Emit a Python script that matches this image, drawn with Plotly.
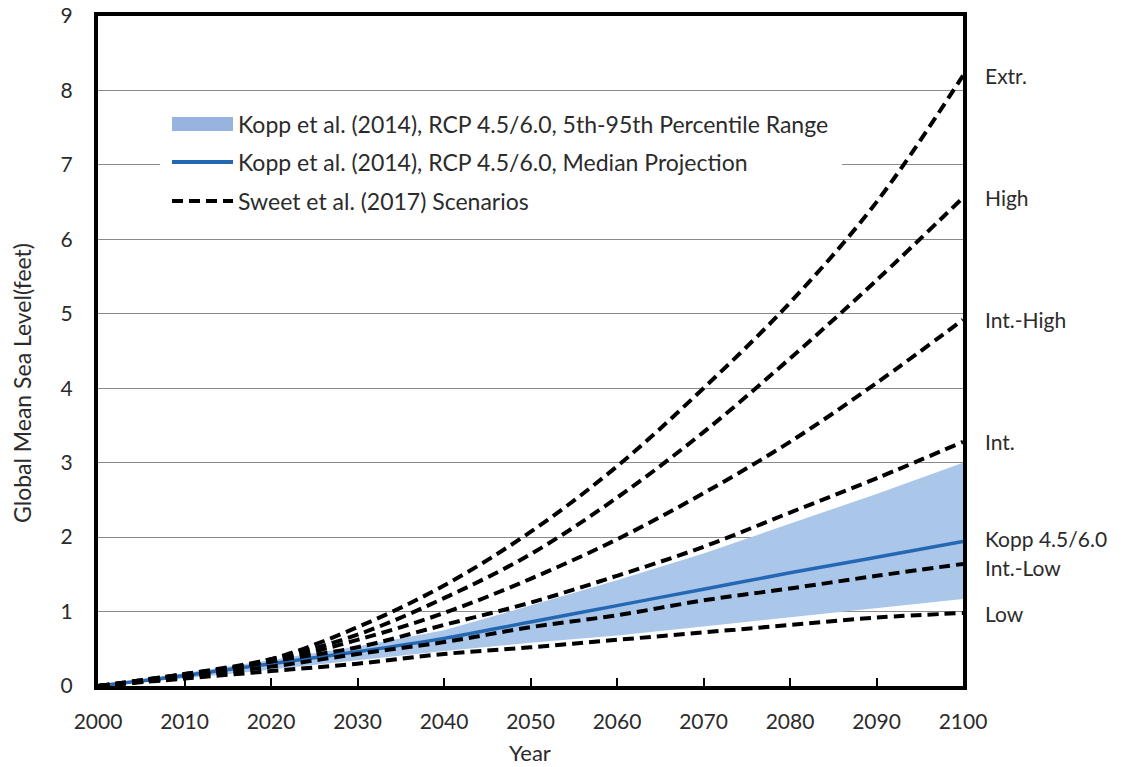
import plotly.graph_objects as go

# Decadal years
years = [2000, 2010, 2020, 2030, 2040, 2050, 2060, 2070, 2080, 2090, 2100]

# Sweet et al. (2017) GMSL scenarios, feet above 2000
sweet_low = [0, 0.10, 0.20, 0.30, 0.43, 0.52, 0.62, 0.72, 0.82, 0.92, 0.98]
sweet_int_low = [0, 0.13, 0.26, 0.43, 0.59, 0.79, 0.95, 1.15, 1.31, 1.48, 1.64]
sweet_int = [0, 0.13, 0.33, 0.52, 0.82, 1.12, 1.48, 1.87, 2.33, 2.79, 3.28]
sweet_int_high = [0, 0.16, 0.33, 0.62, 0.98, 1.44, 1.97, 2.59, 3.28, 4.07, 4.92]
sweet_high = [0, 0.16, 0.36, 0.69, 1.18, 1.77, 2.53, 3.41, 4.40, 5.45, 6.56]
sweet_extreme = [0, 0.13, 0.36, 0.79, 1.35, 2.07, 2.95, 4.00, 5.15, 6.50, 8.20]

# Kopp et al. (2014) RCP 4.5/6.0, feet above 2000
kopp_median = [0, 0.14, 0.30, 0.46, 0.64, 0.86, 1.08, 1.30, 1.52, 1.73, 1.94]
kopp_p05 = [0, 0.10, 0.22, 0.35, 0.47, 0.58, 0.68, 0.80, 0.92, 1.04, 1.17]
kopp_p95 = [0, 0.17, 0.35, 0.53, 0.75, 1.08, 1.42, 1.78, 2.18, 2.58, 3.00]

scenario_names = ["Low", "Int.-Low", "Int.", "Int.-High", "High", "Extr."]
scenario_series = [sweet_low, sweet_int_low, sweet_int, sweet_int_high, sweet_high, sweet_extreme]
kopp_label = "Kopp 4.5/6.0"

legend_labels = [
    "Kopp et al. (2014), RCP 4.5/6.0, 5th-95th Percentile Range",
    "Kopp et al. (2014), RCP 4.5/6.0, Median Projection",
    "Sweet et al. (2017) Scenarios",
]

x_ticks = [2000, 2010, 2020, 2030, 2040, 2050, 2060, 2070, 2080, 2090, 2100]
y_ticks = [0, 1, 2, 3, 4, 5, 6, 7, 8, 9]

FONT = "Lato, 'Open Sans', sans-serif"
TEXT = "#2b2b2b"
BAND = "rgb(170,199,234)"
BAND_KEY = "rgb(152,180,222)"
MEDIAN = "rgb(36,104,180)"
DASH = "11px,6px"

# plot-area geometry in pixels
W, H = 1122, 767
L, R, T, B = 98, 963, 16, 686


def px(x):
    return (x - L) / (R - L)


def py(y):
    return (B - y) / (B - T)


fig = go.Figure()

# 5th-95th percentile band
fig.add_trace(go.Scatter(x=years, y=kopp_p05, mode="lines", line=dict(width=0, color=BAND),
                         hoverinfo="skip", showlegend=False))
fig.add_trace(go.Scatter(x=years, y=kopp_p95, mode="lines", line=dict(width=0, color=BAND),
                         fill="tonexty", fillcolor=BAND, showlegend=False))

# Median projection
fig.add_trace(go.Scatter(x=years, y=kopp_median, mode="lines",
                         line=dict(color=MEDIAN, width=3.5, shape="spline"), showlegend=False))

# Scenario curves
for name, vals in zip(scenario_names, scenario_series):
    fig.add_trace(go.Scatter(x=years, y=vals, mode="lines", name=name,
                             line=dict(color="black", width=4, dash=DASH, shape="spline"),
                             showlegend=False))

# End-of-century labels
LABEL_SIZE = 21
label_shift = {"Int.-Low": -4}
annotations = []
for name, vals in zip(scenario_names, scenario_series):
    annotations.append(dict(x=2100, y=vals[-1], xref="x", yref="y", text=name, showarrow=False,
                            xanchor="left", yanchor="middle", xshift=20,
                            yshift=label_shift.get(name, 0),
                            font=dict(family=FONT, size=LABEL_SIZE, color=TEXT)))
annotations.append(dict(x=2100, y=kopp_median[-1], xref="x", yref="y", text=kopp_label,
                        showarrow=False, xanchor="left", yanchor="middle", xshift=20, yshift=3,
                        font=dict(family=FONT, size=LABEL_SIZE, color=TEXT)))

# Y-axis title
annotations.append(dict(x=px(22), y=py(383), xref="paper", yref="paper",
                        text="Global Mean Sea Level(feet)", textangle=-90, showarrow=False,
                        xanchor="center", yanchor="middle",
                        font=dict(family=FONT, size=23, color=TEXT)))

# X-axis title
annotations.append(dict(x=px(530), y=py(752), xref="paper", yref="paper", text="Year",
                        showarrow=False, xanchor="center", yanchor="middle",
                        font=dict(family=FONT, size=22, color=TEXT)))

# Key
shapes = [
    dict(type="rect", xref="paper", yref="paper", x0=px(160), x1=px(842), y0=py(100), y1=py(225),
         fillcolor="white", line=dict(width=0), layer="above"),
    dict(type="rect", xref="paper", yref="paper", x0=px(172), x1=px(233), y0=py(117), y1=py(131),
         fillcolor=BAND_KEY, line=dict(width=0), layer="above"),
    dict(type="line", xref="paper", yref="paper", x0=px(172), x1=px(233), y0=py(162), y1=py(162),
         line=dict(color=MEDIAN, width=4), layer="above"),
    dict(type="line", xref="paper", yref="paper", x0=px(172), x1=px(233), y0=py(201), y1=py(201),
         line=dict(color="black", width=4, dash=DASH), layer="above"),
]
for label, yy in zip(legend_labels, [124, 162, 201]):
    annotations.append(dict(x=px(236), y=py(yy), xref="paper", yref="paper", text=label,
                            showarrow=False, xanchor="left", yanchor="middle",
                            font=dict(family=FONT, size=23, color=TEXT)))

fig.update_layout(
    width=W, height=H,
    margin=dict(l=L, r=W - R, t=T, b=H - B, autoexpand=False),
    paper_bgcolor="white", plot_bgcolor="white",
    font=dict(family=FONT, size=21, color=TEXT),
    shapes=shapes, annotations=annotations,
    showlegend=False,
)
fig.update_xaxes(
    range=[2000, 2100], tickvals=x_ticks, ticktext=[str(t) for t in x_ticks],
    ticks="inside", ticklen=8, tickwidth=1.5, tickcolor="black",
    showgrid=False, zeroline=False, automargin=False,
    showline=True, linecolor="black", linewidth=4, mirror=True,
    ticklabelstandoff=14,
    tickfont=dict(family=FONT, size=21, color=TEXT),
)
fig.update_yaxes(
    range=[0, 9], tickvals=y_ticks, ticktext=[str(t) for t in y_ticks],
    ticks="", showgrid=True, gridcolor="#8a8a8a", gridwidth=1, zeroline=False, automargin=False,
    showline=True, linecolor="black", linewidth=4, mirror=True,
    ticklabelstandoff=17,
    tickfont=dict(family=FONT, size=21, color=TEXT),
)

fig.write_html("out.html")
